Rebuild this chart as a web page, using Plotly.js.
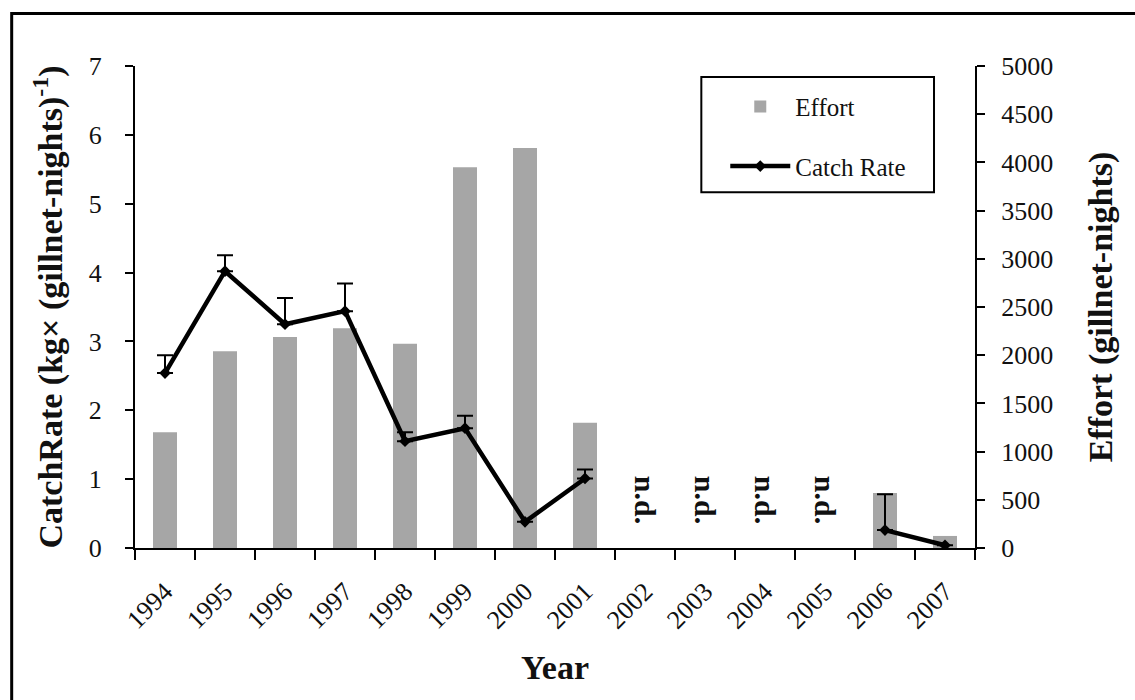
<!DOCTYPE html>
<html>
<head>
<meta charset="utf-8">
<script src="https://cdn.plot.ly/plotly-3.0.1.min.js"></script>
<style>
  html, body { margin: 0; padding: 0; background: #fff; }
  #chart { width: 1135px; height: 700px; }
</style>
</head>
<body>
<div id="chart"></div>
<script>
// Survey years (categories on the x axis)
const years = ['1994','1995','1996','1997','1998','1999','2000','2001','2002','2003','2004','2005','2006','2007'];

// Fishing effort, gillnet-nights (right axis)
const effort = [1200, 2040, 2190, 2280, 2120, 3950, 4150, 1300, null, null, null, null, 570, 125];

// Catch rate, kg per gillnet-night (left axis); null = no data
const catchRate = [2.54, 4.02, 3.25, 3.44, 1.55, 1.74, 0.38, 1.01, null, null, null, null, 0.26, 0.04];

// Upper error (one-sided) for catch rate
const catchErr = [0.26, 0.23, 0.38, 0.40, 0.13, 0.18, 0, 0.13, null, null, null, null, 0.52, 0];

// Years without data, labelled "n.d."
const noDataYears = ['2002','2003','2004','2005'];
const noDataLabel = 'n.d.';

const serif = '"Liberation Serif", "Times New Roman", serif';
const ink = '#111111';

const traces = [
  {
    type: 'bar',
    name: 'Effort',
    x: years,
    y: effort,
    yaxis: 'y',
    width: 0.4,
    marker: { color: '#a6a6a6' },
    legendgroup: 'a'
  },
  {
    type: 'scatter',
    mode: 'lines+markers',
    name: 'Catch Rate',
    x: years,
    y: catchRate,
    yaxis: 'y2',
    connectgaps: false,
    line: { color: '#000000', width: 4.5 },
    marker: { symbol: 'diamond', size: 9, color: '#000000' },
    error_y: {
      type: 'data',
      symmetric: false,
      array: catchErr.map(v => (v === null ? 0 : v)),
      arrayminus: catchErr.map(() => 0),
      color: '#000000',
      thickness: 2,
      width: 8
    },
    legendgroup: 'b'
  }
];

// "n.d." labels placed by category index on the shared x axis
const annotations = noDataYears.map(yr => ({
  x: years.indexOf(yr),
  y: 0.7,
  xref: 'x',
  yref: 'y2',
  text: noDataLabel,
  showarrow: false,
  textangle: 90,
  font: { family: serif, size: 30, color: ink, weight: 'bold' }
}));

const axisCommon = {
  ticks: 'outside',
  ticklen: 8,
  tickwidth: 2,
  tickcolor: '#000000',
  showline: true,
  linecolor: '#000000',
  linewidth: 2,
  showgrid: false,
  zeroline: false
};

const layout = {
  width: 1135,
  height: 700,
  margin: { l: 135, r: 160, t: 66, b: 152 },
  paper_bgcolor: '#ffffff',
  plot_bgcolor: '#ffffff',
  font: { family: serif, color: ink },
  showlegend: true,
  legend: {
    x: 0.7027, y: 0.963, xanchor: 'left', yanchor: 'top',
    borderwidth: 0, bgcolor: 'rgba(0,0,0,0)',
    font: { family: serif, size: 25, color: ink },
    traceorder: 'grouped',
    tracegroupgap: 24,
    itemwidth: 60
  },
  xaxis: Object.assign({}, axisCommon, {
    type: 'category',
    range: [-0.5, years.length - 0.5],
    tickson: 'boundaries',
    ticklen: 10,
    tickangle: -45,
    ticklabelstandoff: 16,
    tickfont: { family: serif, size: 26, color: ink },
    title: { text: 'Year', font: { family: serif, size: 34, color: ink, weight: 'bold' }, standoff: 22 }
  }),
  // Right axis: effort (bars)
  yaxis: Object.assign({}, axisCommon, {
    side: 'right',
    range: [0, 5000],
    dtick: 500,
    ticklabelstandoff: 11,
    tickfont: { family: serif, size: 26, color: ink },
    title: { text: 'Effort (gillnet-nights)', font: { family: serif, size: 34, color: ink, weight: 'bold' }, standoff: 36 }
  }),
  // Left axis: catch rate (line)
  yaxis2: Object.assign({}, axisCommon, {
    overlaying: 'y',
    side: 'left',
    range: [0, 7],
    dtick: 1,
    ticklabelstandoff: 18,
    tickfont: { family: serif, size: 26, color: ink },
    title: { text: 'CatchRate (kg× (gillnet-nights)<sup>-1</sup>)', font: { family: serif, size: 34, color: ink, weight: 'bold' }, standoff: 16 }
  }),
  annotations: annotations,
  shapes: [
    // outer frame (left and top edges fall inside the page)
    {
      type: 'rect', xref: 'paper', yref: 'paper',
      x0: -0.1468, x1: 1.25, y0: -0.4, y1: 1.109,
      line: { color: '#000000', width: 3 },
      fillcolor: 'rgba(0,0,0,0)',
      layer: 'above'
    },
    // legend box
    {
      type: 'rect', xref: 'paper', yref: 'paper',
      x0: 0.6742, x1: 0.9512, y0: 0.738, y1: 0.9771,
      line: { color: '#000000', width: 2 },
      fillcolor: 'rgba(0,0,0,0)',
      layer: 'above'
    }
  ]
};

Plotly.newPlot('chart', traces, layout, { displayModeBar: false, staticPlot: true });
</script>
</body>
</html>
